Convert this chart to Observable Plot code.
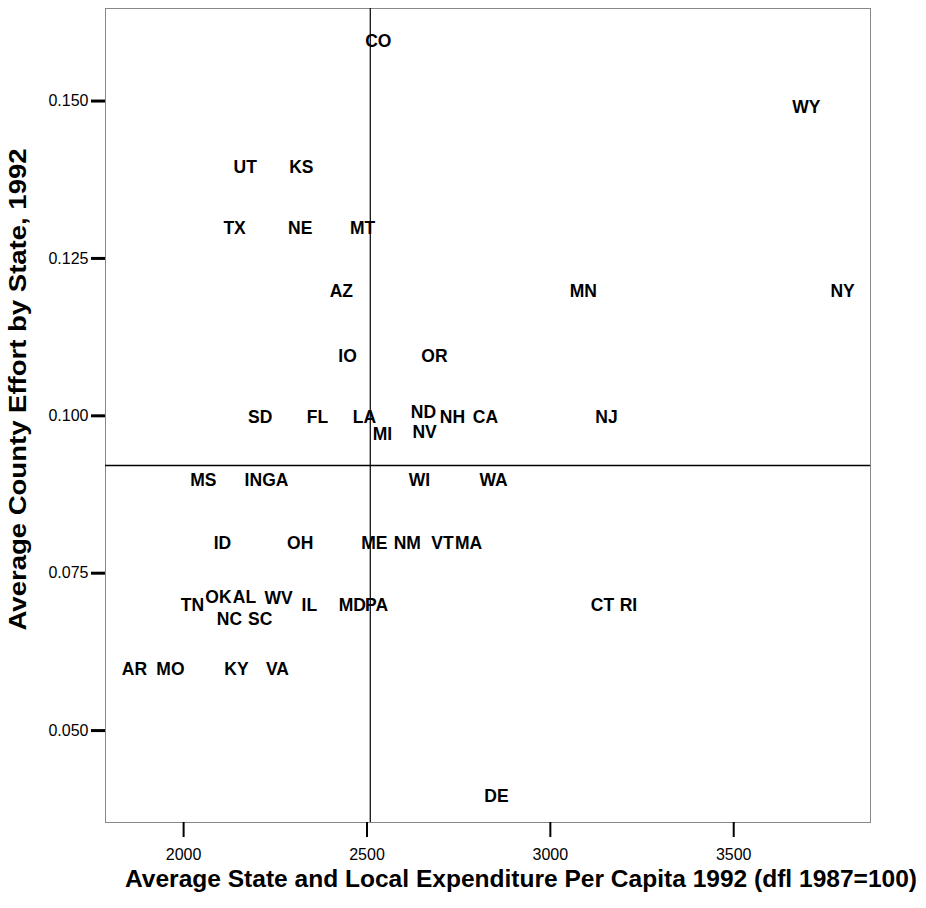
<!DOCTYPE html>
<html>
<head>
<meta charset="utf-8">
<script src="https://cdn.jsdelivr.net/npm/d3@7"></script>
<script src="https://cdn.jsdelivr.net/npm/@observablehq/plot@0.6"></script>
<style>
  html, body { margin: 0; padding: 0; background: #fff; }
  #chart svg { display: block; }
</style>
</head>
<body>
<div id="chart"></div>
<script>
const states = ["CO","WY","UT","KS","TX","NE","MT","AZ","MN","NY","IO","OR","SD","FL","LA","MI","ND","NV","NH","CA","NJ","MS","IN","GA","WI","WA","ID","OH","ME","NM","VT","MA","TN","OK","AL","WV","IL","MD","PA","NC","SC","CT","RI","AR","MO","KY","VA","DE"];
const expenditure = [2531,3698,2168,2321,2139,2318,2488,2430,3090,3797,2447,2684,2209,2365,2493,2542,2654,2657,2733,2823,3153,2054,2190,2250,2643,2845,2106,2318,2520,2610,2706,2777,2024,2095,2166,2259,2343,2460,2526,2125,2209,3142,3213,1866,1964,2144,2256,2853];
const effort = [0.1595,0.149,0.1394,0.1394,0.1297,0.1297,0.1297,0.1198,0.1198,0.1198,0.1095,0.1095,0.0997,0.0997,0.0997,0.0971,0.1005,0.0974,0.0997,0.0997,0.0997,0.0897,0.0897,0.0897,0.0897,0.0897,0.0797,0.0797,0.0797,0.0797,0.0797,0.0797,0.0699,0.0711,0.0711,0.0710,0.0699,0.0699,0.0699,0.0676,0.0676,0.0699,0.0699,0.0598,0.0598,0.0598,0.0598,0.0395];
const meanExpenditure = 2509;
const meanEffort = 0.0921;
const xTicks = [2000, 2500, 3000, 3500];
const yTicks = [0.05, 0.075, 0.1, 0.125, 0.15];
const xTitle = "Average State and Local Expenditure Per Capita 1992 (dfl 1987=100)";
const yTitle = "Average County Effort by State, 1992";

const rows = states.map((s, i) => ({state: s, x: expenditure[i], y: effort[i]}));

const chart = Plot.plot({
  width: 926,
  height: 908,
  marginLeft: 105,
  marginRight: 56,
  marginTop: 8,
  marginBottom: 86,
  style: {fontFamily: "'Liberation Sans', Arial, sans-serif", background: "#fff", color: "#000"},
  x: {domain: [1787, 3873]},
  y: {domain: [0.0354, 0.1647]},
  marks: [
    Plot.frame({stroke: "#888", strokeWidth: 1}),
    Plot.ruleX([meanExpenditure], {stroke: "#000", strokeWidth: 1.2}),
    Plot.ruleY([meanEffort], {stroke: "#000", strokeWidth: 1.5}),
    Plot.axisX({ticks: xTicks, tickFormat: d3.format("d"), tickSize: 15, tickPadding: 11, strokeWidth: 2, fontSize: 16, label: null}),
    Plot.axisY({ticks: yTicks, tickFormat: d3.format(".3f"), tickSize: 14, tickPadding: 3, strokeWidth: 3, fontSize: 16, label: null}),
    Plot.text(rows, {x: "x", y: "y", text: "state", fontSize: 17.5, fontWeight: "bold", fill: "#000"}),
    Plot.text([xTitle], {text: d => d, frameAnchor: "bottom", textAnchor: "middle", lineAnchor: "middle", dx: 33, dy: 57, fontSize: 24, fontWeight: "bold", fill: "#000", className: "xtitle"}),
    Plot.text([yTitle], {text: d => d, frameAnchor: "left", textAnchor: "middle", lineAnchor: "middle", rotate: -90, dx: -87, dy: -26, fontSize: 24, fontWeight: "bold", fill: "#000", className: "ytitle"})
  ]
});
d3.select(chart).selectAll(".xtitle text").attr("textLength", 792).attr("lengthAdjust", "spacingAndGlyphs");
d3.select(chart).selectAll(".ytitle text").attr("textLength", 482).attr("lengthAdjust", "spacingAndGlyphs");
document.getElementById("chart").appendChild(chart);
</script>
</body>
</html>
